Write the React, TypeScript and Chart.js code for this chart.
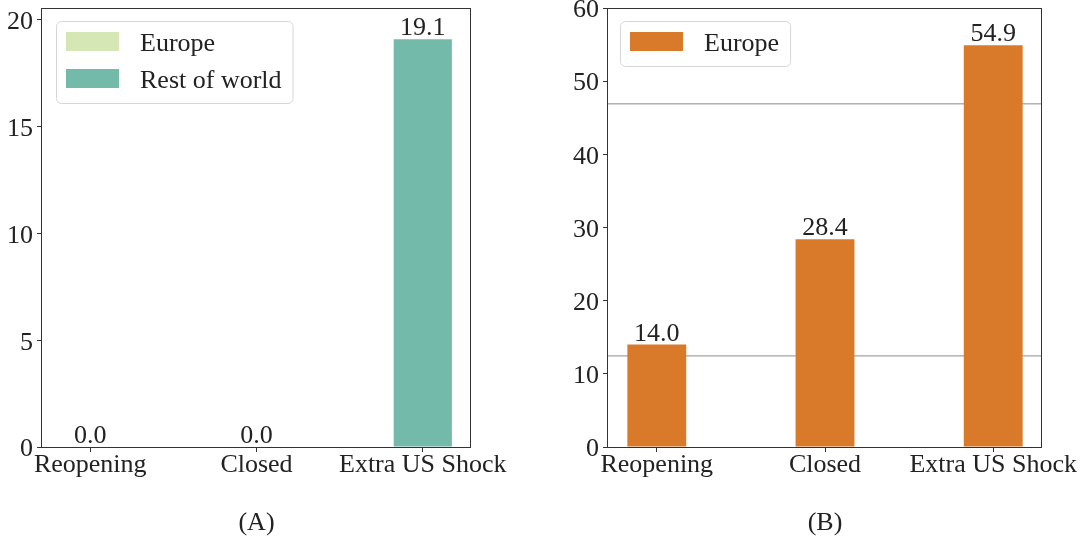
import React, { useEffect, useRef } from "react";
import { Chart, registerables } from "chart.js";

Chart.register(...registerables);

// ---------- data ----------
const categories = ["Reopening", "Closed", "Extra US Shock"];
const europeA = [0, 0, 0];
const restOfWorldA = [0, 0, 19.1];
const europeB = [14.0, 28.4, 54.9];
const refLinesB = [46.9, 12.45];
const yTicksA = [0, 5, 10, 15, 20];
const yTicksB = [0, 10, 20, 30, 40, 50, 60];
const yMaxA = 20.56;
const yMaxB = 60;
const xMin = -0.29;
const xMax = 2.29;
const panelTitles = ["(A)", "(B)"];
const seriesNames = ["Europe", "Rest of world"];

// ---------- style ----------
const FAMILY = "'Liberation Serif', 'Times New Roman', serif";
const FS = 26;
const C = {
  europeA: "#d5e7b5",
  rest: "#73baab",
  europeB: "#d97a2b",
  ref: "#8c8c8c",
  axis: "#333333",
  text: "#222222",
  legendBorder: "#d6d6d6",
};

const spinePlugin = {
  id: "spines",
  afterDraw(chart: any) {
    const { ctx, chartArea: a } = chart;
    ctx.save();
    ctx.strokeStyle = C.axis;
    ctx.lineWidth = 1;
    const l = Math.round(a.left) - 0.5;
    const t = Math.round(a.top) + 0.5;
    const r = Math.round(a.right) - 0.5;
    const b = Math.round(a.bottom) + 0.5;
    ctx.strokeRect(l, t, r - l, b - t);
    ctx.restore();
  },
};

const totalsPlugin = {
  id: "barTotals",
  afterDatasetsDraw(chart: any, _args: any, opts: any) {
    if (!opts || !opts.totals) return;
    const { ctx } = chart;
    const meta = chart.getDatasetMeta(opts.datasetIndex);
    ctx.save();
    ctx.font = `${FS}px ${FAMILY}`;
    ctx.fillStyle = C.text;
    ctx.textAlign = "center";
    ctx.textBaseline = "alphabetic";
    meta.data.forEach((el: any, i: number) => {
      ctx.fillText(opts.totals[i].toFixed(1), el.x, el.y - 4);
    });
    ctx.restore();
  },
};

const boxLegendPlugin = {
  id: "boxLegend",
  afterDraw(chart: any, _args: any, opts: any) {
    if (!opts || !opts.items) return;
    const { ctx, chartArea: a } = chart;
    const items = opts.items as { label: string; color: string }[];
    ctx.save();
    ctx.font = `${FS}px ${FAMILY}`;
    const maxW = Math.max(...items.map((it) => ctx.measureText(it.label).width));
    const bx = a.left + (opts.inset ?? 14);
    const by = a.top + 13;
    const bw = 10 + 53 + 21 + maxW + 11;
    const bh = 8 + 37 * items.length;
    ctx.beginPath();
    ctx.roundRect(bx + 0.5, by + 0.5, bw, bh, 5);
    ctx.fillStyle = "rgba(255,255,255,0.85)";
    ctx.fill();
    ctx.strokeStyle = C.legendBorder;
    ctx.lineWidth = 1;
    ctx.stroke();
    items.forEach((it, i) => {
      const py = by + 11 + i * 37;
      ctx.fillStyle = it.color;
      ctx.fillRect(bx + 10, py, 53, 19);
      ctx.fillStyle = C.text;
      ctx.textAlign = "left";
      ctx.textBaseline = "alphabetic";
      ctx.fillText(it.label, bx + 10 + 53 + 21, py + 18.5);
    });
    ctx.restore();
  },
};

function makeConfig(p: {
  datasets: any[];
  stacked: boolean;
  yTicks: number[];
  yMax: number;
  title: string;
  yWidth: number;
  padRight: number;
  padTop: number;
  legendItems: { label: string; color: string }[];
  legendInset: number;
  totals: number[];
  totalsIndex: number;
}) {
  const font = { family: FAMILY, size: FS, lineHeight: 1 };
  return {
    type: "bar",
    data: { datasets: p.datasets },
    plugins: [spinePlugin, totalsPlugin, boxLegendPlugin],
    options: {
      animation: false,
      responsive: false,
      layout: { padding: { left: 0, top: p.padTop, right: p.padRight, bottom: 0 } },
      datasets: { bar: { categoryPercentage: 1, barPercentage: 0.35, inflateAmount: 0 } },
      plugins: {
        legend: { display: false },
        tooltip: { enabled: false },
        barTotals: { totals: p.totals, datasetIndex: p.totalsIndex },
        boxLegend: { items: p.legendItems, inset: p.legendInset },
      },
      scales: {
        x: {
          type: "linear",
          min: xMin,
          max: xMax,
          offset: false,
          stacked: p.stacked,
          afterBuildTicks: (s: any) => {
            s.ticks = categories.map((_, i) => ({ value: i }));
          },
          afterFit: (s: any) => {
            s.height = 92;
            s.paddingLeft = 0;
            s.paddingRight = 0;
          },
          ticks: {
            autoSkip: false,
            maxRotation: 0,
            padding: 0,
            color: C.text,
            font,
            callback: (v: any) => categories[Math.round(v)] ?? "",
          },
          grid: {
            display: true,
            drawOnChartArea: false,
            drawTicks: true,
            tickLength: 5,
            offset: false,
            color: C.axis,
            lineWidth: 1,
          },
          border: { display: false },
          title: {
            display: true,
            text: p.title,
            color: C.text,
            font,
            padding: { top: 0, bottom: 3 },
          },
        },
        y: {
          min: 0,
          max: p.yMax,
          stacked: p.stacked,
          afterBuildTicks: (s: any) => {
            s.ticks = p.yTicks.map((v) => ({ value: v }));
          },
          afterFit: (s: any) => {
            s.width = p.yWidth;
            s.paddingTop = 0;
            s.paddingBottom = 0;
          },
          ticks: {
            padding: 4,
            color: C.text,
            // two-line label with a small line height nudges the number ~2.5px below its tick
            font: { family: FAMILY, size: FS, lineHeight: "5px" },
            callback: (v: any) => ["", String(v)],
          },
          grid: {
            display: true,
            drawOnChartArea: false,
            drawTicks: true,
            tickLength: 5,
            color: C.axis,
            lineWidth: 1,
          },
          border: { display: false },
        },
      },
    },
  } as any;
}

function Panel({ config, left }: { config: any; left: number }) {
  const ref = useRef<HTMLCanvasElement | null>(null);
  useEffect(() => {
    if (!ref.current) return;
    const chart = new Chart(ref.current, config);
    return () => chart.destroy();
  }, [config]);
  return (
    <div style={{ position: "absolute", left, top: 0, width: 545, height: 539 }}>
      <canvas ref={ref} width={545} height={539} style={{ display: "block" }} />
    </div>
  );
}

const totalsA = europeA.map((v, i) => v + restOfWorldA[i]);

const configA = makeConfig({
  datasets: [
    {
      label: seriesNames[0],
      data: europeA.map((y, x) => ({ x, y })),
      backgroundColor: C.europeA,
      borderWidth: 0,
      order: 1,
    },
    {
      label: seriesNames[1],
      data: restOfWorldA.map((y, x) => ({ x, y })),
      backgroundColor: C.rest,
      borderWidth: 0,
      order: 1,
    },
  ],
  stacked: true,
  yTicks: yTicksA,
  yMax: yMaxA,
  title: panelTitles[0],
  yWidth: 42,
  padRight: 74,
  padTop: 8,
  legendItems: [
    { label: seriesNames[0], color: C.europeA },
    { label: seriesNames[1], color: C.rest },
  ],
  legendInset: 14,
  totals: totalsA,
  totalsIndex: 1,
});

const configB = makeConfig({
  datasets: [
    {
      label: seriesNames[0],
      data: europeB.map((y, x) => ({ x, y })),
      backgroundColor: C.europeB,
      borderWidth: 0,
      order: 1,
    },
    ...refLinesB.map((v) => ({
      type: "line",
      label: "ref",
      data: [
        { x: xMin, y: v },
        { x: xMax, y: v },
      ],
      borderColor: C.ref,
      borderWidth: 1,
      pointRadius: 0,
      fill: false,
      order: 2,
    })),
  ],
  stacked: false,
  yTicks: yTicksB,
  yMax: yMaxB,
  title: panelTitles[1],
  yWidth: 62,
  padRight: 49,
  padTop: 8,
  legendItems: [{ label: seriesNames[0], color: C.europeB }],
  legendInset: 12,
  totals: europeB,
  totalsIndex: 0,
});

export default function App() {
  return (
    <div
      style={{
        position: "fixed",
        left: 0,
        top: 0,
        width: 1091,
        height: 539,
        background: "#ffffff",
        overflow: "hidden",
      }}
    >
      <Panel config={configA} left={0} />
      <Panel config={configB} left={546} />
    </div>
  );
}
